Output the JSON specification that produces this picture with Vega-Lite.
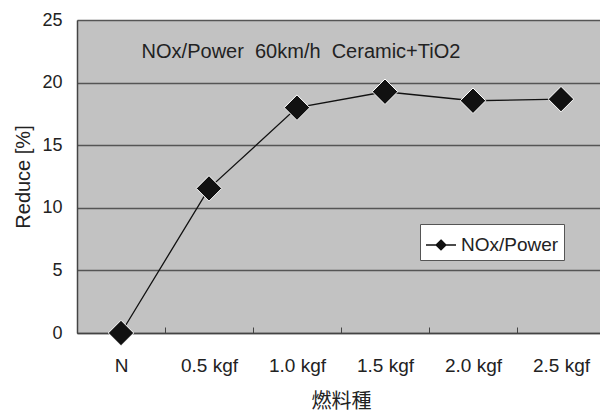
{
  "$schema": "https://vega.github.io/schema/vega-lite/v6.json",
  "width": 528,
  "height": 313,
  "autosize": {"type": "none"},
  "padding": {"left": 77, "top": 20, "right": 0, "bottom": 80},
  "background": "white",
  "config": {
    "font": "Liberation Sans",
    "view": {"fill": "#c2c2c2", "stroke": null}
  },
  "title": {
    "text": "NOx/Power\u00a0\u00a060km/h\u00a0\u00a0Ceramic+TiO2",
    "anchor": "middle",
    "orient": "top",
    "offset": 0,
    "dx": -40,
    "dy": 61,
    "baseline": "middle",
    "fontSize": 20,
    "fontWeight": "normal",
    "color": "#222"
  },
  "data": {
    "values": [
      {"fuel": "N", "reduce": 0, "series": "NOx/Power"},
      {"fuel": "0.5 kgf", "reduce": 11.55, "series": "NOx/Power"},
      {"fuel": "1.0 kgf", "reduce": 18.0, "series": "NOx/Power"},
      {"fuel": "1.5 kgf", "reduce": 19.27, "series": "NOx/Power"},
      {"fuel": "2.0 kgf", "reduce": 18.55, "series": "NOx/Power"},
      {"fuel": "2.5 kgf", "reduce": 18.68, "series": "NOx/Power"}
    ]
  },
  "encoding": {
    "x": {
      "field": "fuel",
      "type": "nominal",
      "sort": null,
      "scale": {"paddingInner": 0, "paddingOuter": 0},
      "axis": {
        "title": "燃料種",
        "titleFont": "Noto Sans CJK JP",
        "titleFontSize": 20,
        "titleFontWeight": "normal",
        "titleColor": "#222",
        "titlePadding": 16,
        "labelAngle": 0,
        "labelFontSize": 19,
        "labelColor": "#222",
        "labelPadding": 29,
        "tickBand": "extent",
        "tickSize": -6,
        "tickColor": "#444",
        "domainColor": "#444",
        "domainWidth": 1.5,
        "grid": false
      }
    },
    "y": {
      "field": "reduce",
      "type": "quantitative",
      "scale": {"domain": [0, 25], "nice": false},
      "axis": {
        "title": "Reduce [%]",
        "titleFontSize": 20,
        "titleFontWeight": "normal",
        "titleColor": "#222",
        "titlePadding": 8,
        "values": [0, 5, 10, 15, 20, 25],
        "labelFontSize": 18,
        "labelColor": "#222",
        "labelPadding": 15,
        "ticks": false,
        "grid": true,
        "gridColor": "#555",
        "gridWidth": 1.5,
        "domainColor": "#444",
        "domainWidth": 1.5
      }
    }
  },
  "layer": [
    {
      "mark": {"type": "line", "strokeWidth": 1.3},
      "encoding": {
        "color": {
          "field": "series",
          "type": "nominal",
          "scale": {"range": ["#111"]},
          "legend": {
            "title": null,
            "orient": "none",
            "legendX": 343,
            "legendY": 204,
            "fillColor": "white",
            "strokeColor": "#555",
            "padding": 5,
            "labelFontSize": 19,
            "labelColor": "#222",
            "symbolType": "M-1,0L1,0M0,-0.33L0.33,0L0,0.33L-0.33,0Z",
            "symbolSize": 900,
            "symbolFillColor": "#111",
            "symbolStrokeColor": "#111",
            "symbolStrokeWidth": 1.3
          }
        }
      }
    },
    {
      "mark": {
        "type": "point",
        "shape": "diamond",
        "size": 650,
        "filled": true,
        "fill": "#111",
        "stroke": "white",
        "strokeWidth": 1,
        "opacity": 1
      }
    }
  ]
}
